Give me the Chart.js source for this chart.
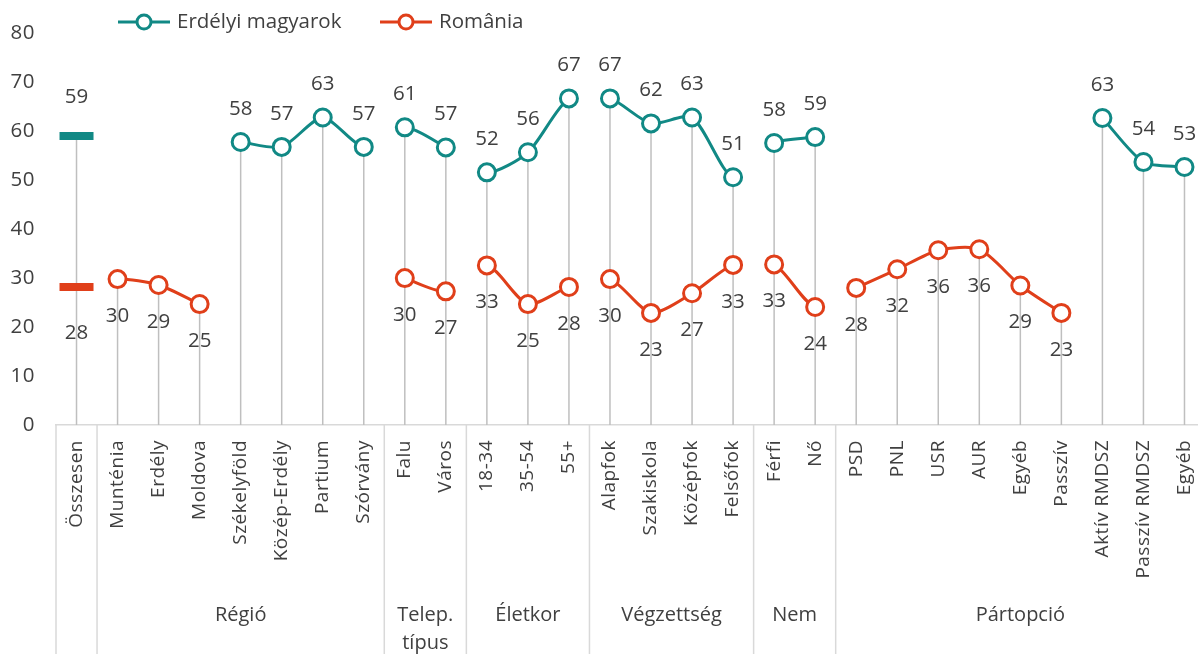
<!DOCTYPE html>
<html lang="hu">
<head>
<meta charset="UTF-8">
<title>Erdélyi magyarok és România</title>
<script src="https://cdn.jsdelivr.net/npm/chart.js@4"></script>
<style>
  body { margin: 0; overflow: hidden; background: #fff; }
  .chart-wrapper { position: relative; width: 1230px; height: 654px; }
</style>
</head>
<body>
<div class="chart-wrapper"><canvas id="chart"></canvas></div>
<script>
// categories along the x axis
const categories = [
  'Összesen',
  'Munténia', 'Erdély', 'Moldova', 'Székelyföld', 'Közép-Erdély', 'Partium', 'Szórvány',
  'Falu', 'Város',
  '18-34', '35-54', '55+',
  'Alapfok', 'Szakiskola', 'Középfok', 'Felsőfok',
  'Férfi', 'Nő',
  'PSD', 'PNL', 'USR', 'AUR', 'Egyéb', 'Passzív', 'Aktív RMDSZ', 'Passzív RMDSZ', 'Egyéb'
];

// group labels under the categories and how many categories each one spans
const groupNames = ['', 'Régió', 'Telep.\ntípus', 'Életkor', 'Végzettség', 'Nem', 'Pártopció'];
const groupSizes = [1, 7, 2, 3, 4, 2, 9];

// series values (%)
const erdelyiMagyarok = [
  59,
  null, null, null, 57.8, 56.8, 62.8, 56.8,
  60.8, 56.7,
  51.6, 55.7, 66.7,
  66.7, 61.6, 62.8, 50.6,
  57.6, 58.8,
  null, null, null, null, null, null, 62.7, 53.7, 52.7
];
const romania = [
  28.2,
  29.8, 28.6, 24.7, null, null, null, null,
  30.0, 27.3,
  32.6, 24.7, 28.2,
  29.8, 22.9, 26.9, 32.7,
  32.8, 24.1,
  28.0, 31.8, 35.7, 35.9, 28.5, 22.9, null, null, null
];

const yTicks = [0, 10, 20, 30, 40, 50, 60, 70, 80];

const TEAL = '#118985';
const RED = '#e03f1a';
const TEXT = '#404040';
const FONT = '"Open Sans", "Noto Sans", sans-serif';

// which group each category belongs to (used to break the lines)
const groupOf = [];
groupSizes.forEach((n, g) => { for (let i = 0; i < n; i++) groupOf.push(g); });

const breakAtGroups = ctx => groupOf[ctx.p0DataIndex] !== groupOf[ctx.p1DataIndex] ? 'rgba(0,0,0,0)' : undefined;

function seriesStyle(color) {
  return {
    borderColor: color,
    backgroundColor: color,
    borderWidth: 3,
    tension: 0.25,
    spanGaps: false,
    pointStyle: ctx => ctx.dataIndex === 0 ? 'line' : 'circle',
    pointRadius: ctx => ctx.dataIndex === 0 ? 17 : 8.5,
    pointBorderWidth: ctx => ctx.dataIndex === 0 ? 8 : 3,
    pointBackgroundColor: '#fff',
    pointBorderColor: color,
    segment: { borderColor: breakAtGroups }
  };
}

// vertical drop lines from the highest point down to the axis
const dropLines = {
  id: 'dropLines',
  beforeDraw(chart) {
    chart.ctx.letterSpacing = '0.5px';
  },
  beforeDatasetsDraw(chart) {
    const ctx = chart.ctx;
    ctx.letterSpacing = '0px';
    const area = chart.chartArea;
    const y = chart.scales.y;
    ctx.save();
    ctx.strokeStyle = '#bfbfbf';
    ctx.lineWidth = 1.5;
    categories.forEach((c, i) => {
      const vals = chart.data.datasets.map(d => d.data[i]).filter(v => v !== null);
      if (!vals.length) return;
      const x = chart.scales.x.getPixelForValue(i);
      ctx.beginPath();
      ctx.moveTo(x, y.getPixelForValue(Math.max(...vals)));
      ctx.lineTo(x, area.bottom);
      ctx.stroke();
    });
    ctx.restore();
  }
};

// value labels: above for the first series, below for the second
const valueLabels = {
  id: 'valueLabels',
  afterDatasetsDraw(chart) {
    const ctx = chart.ctx;
    ctx.save();
    ctx.font = '20.5px ' + FONT;
    ctx.fillStyle = TEXT;
    ctx.textAlign = 'center';
    ctx.textBaseline = 'middle';
    chart.data.datasets.forEach((ds, di) => {
      const meta = chart.getDatasetMeta(di);
      ds.data.forEach((v, i) => {
        if (v === null) return;
        const pt = meta.data[i];
        let off = di === 0 ? -33 : 37;
        if (i === 0) off = di === 0 ? -39 : 46;
        ctx.fillText(String(Math.round(v)), pt.x, pt.y + off);
      });
    });
    ctx.restore();
  }
};

// group separators, group names and the legend
const decorations = {
  id: 'decorations',
  afterDraw(chart) {
    const ctx = chart.ctx;
    const area = chart.chartArea;
    const step = (area.right - area.left) / categories.length;
    ctx.save();
    ctx.strokeStyle = '#d9d9d9';
    ctx.lineWidth = 1.5;
    let k = 0;
    const bounds = [0];
    groupSizes.forEach(n => { k += n; bounds.push(k); });
    bounds.forEach(b => {
      const x = area.left + b * step;
      ctx.beginPath();
      ctx.moveTo(x, area.bottom);
      ctx.lineTo(x, chart.height);
      ctx.stroke();
    });

    ctx.font = '20px ' + FONT;
    ctx.fillStyle = TEXT;
    ctx.textAlign = 'center';
    ctx.textBaseline = 'middle';
    groupNames.forEach((name, g) => {
      if (!name) return;
      const cx = area.left + (bounds[g] + bounds[g + 1]) / 2 * step;
      name.split('\n').forEach((line, li) => ctx.fillText(line, cx, 615 + li * 28));
    });

    // legend
    ctx.font = '20.5px ' + FONT;
    const items = [
      { label: 'Erdélyi magyarok', color: TEAL, x: 118 },
      { label: 'România', color: RED, x: 380 }
    ];
    items.forEach(it => {
      const ly = 22;
      ctx.strokeStyle = it.color;
      ctx.lineWidth = 3;
      ctx.beginPath();
      ctx.moveTo(it.x, ly);
      ctx.lineTo(it.x + 52, ly);
      ctx.stroke();
      ctx.fillStyle = '#fff';
      ctx.beginPath();
      ctx.arc(it.x + 26, ly, 7, 0, Math.PI * 2);
      ctx.fill();
      ctx.stroke();
      ctx.fillStyle = TEXT;
      ctx.textAlign = 'left';
      ctx.fillText(it.label, it.x + 59, ly);
    });
    ctx.restore();
  }
};

new Chart(document.getElementById('chart'), {
  type: 'line',
  data: {
    labels: categories,
    datasets: [
      { label: 'Erdélyi magyarok', data: erdelyiMagyarok, ...seriesStyle(TEAL) },
      { label: 'România', data: romania, ...seriesStyle(RED) }
    ]
  },
  options: {
    responsive: true,
    maintainAspectRatio: false,
    animation: false,
    events: [],
    layout: { padding: { top: 33, right: 23, left: 0, bottom: 0 } },
    plugins: { legend: { display: false }, tooltip: { enabled: false } },
    scales: {
      x: {
        offset: true,
        grid: { display: false, drawTicks: false },
        border: { display: true, color: '#d9d9d9', width: 1.5 },
        ticks: {
          autoSkip: false,
          minRotation: 90,
          maxRotation: 90,
          padding: 15,
          color: TEXT,
          font: { family: FONT, size: 19 }
        },
        afterFit: s => { s.height = 229; }
      },
      y: {
        min: 0,
        max: 80,
        grid: { display: false, drawTicks: false },
        border: { display: false },
        afterBuildTicks: s => { s.ticks = yTicks.map(v => ({ value: v })); },
        ticks: {
          padding: 21,
          color: TEXT,
          font: { family: FONT, size: 20.5 }
        },
        afterFit: s => { s.width = 56; }
      }
    }
  },
  plugins: [dropLines, valueLabels, decorations]
});
</script>
</body>
</html>
